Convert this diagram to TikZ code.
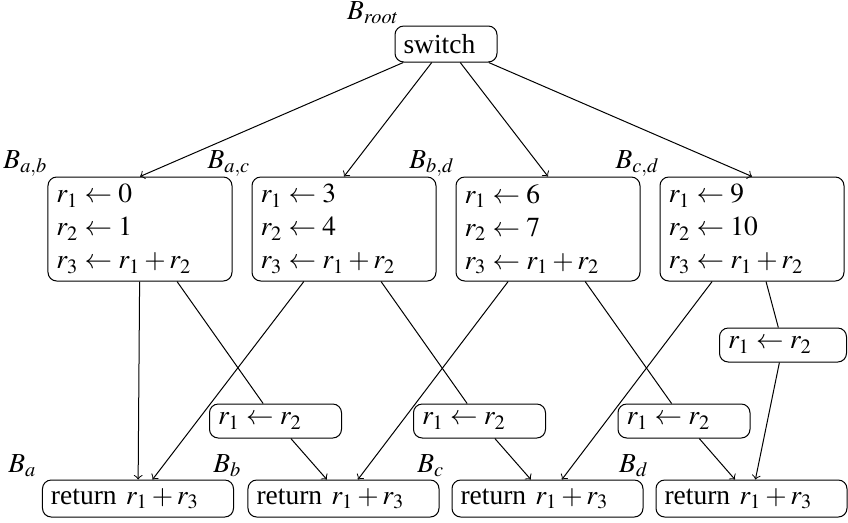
\documentclass[tikz,border=0pt]{standalone}
\usepackage{mathptmx}
\usepackage{fontspec}
\setmainfont{Liberation Serif}
\begin{document}
\begin{tikzpicture}[x=0.4pt,y=-0.4pt,
  every node/.style={font=\fontsize{11}{13.2}\selectfont},
  blk/.style={draw, rounded corners=3.5pt, align=left, inner xsep=3.4pt, inner ysep=0pt, line width=0.4pt},
  rootbox/.style={blk, text width=34pt, minimum height=14.4pt},
  midbox/.style={blk, text width=66.8pt, minimum height=41.6pt},
  movebox/.style={blk, text width=46pt, minimum height=13.6pt},
  movebox4/.style={blk, text width=44pt, minimum height=13.6pt},
  endbox/.style={blk, text width=69.6pt, minimum height=14.8pt},
  lbl/.style={anchor=base east, inner sep=0pt},
  arr/.style={->, line width=0.4pt},
  ln/.style={line width=0.4pt}]
\useasboundingbox (0,0) rectangle (848,522);

% root
\node[rootbox] (root) at (446,44) {switch};
\node[lbl] (lroot) at (400,19.5) {$B_{root}$};

% middle blocks
\node[midbox] (b1) at (140,229) {$r_1 \leftarrow 0$\\$r_2 \leftarrow 1$\\$r_3 \leftarrow r_1 + r_2$};
\node[midbox] (b2) at (344,229) {$r_1 \leftarrow 3$\\$r_2 \leftarrow 4$\\$r_3 \leftarrow r_1 + r_2$};
\node[midbox] (b3) at (548,229) {$r_1 \leftarrow 6$\\$r_2 \leftarrow 7$\\$r_3 \leftarrow r_1 + r_2$};
\node[midbox] (b4) at (752,229) {$r_1 \leftarrow 9$\\$r_2 \leftarrow 10$\\$r_3 \leftarrow r_1 + r_2$};
\node[lbl] (lb1) at (48,168) {$B_{a,b}$};
\node[lbl] (lb2) at (251,168) {$B_{a,c}$};
\node[lbl] (lb3) at (455,168) {$B_{b,d}$};
\node[lbl] (lb4) at (660,168) {$B_{c,d}$};

% move blocks
\node[movebox] (m1) at (275.5,421) {$r_1 \leftarrow r_2$};
\node[movebox] (m2) at (479.5,421) {$r_1 \leftarrow r_2$};
\node[movebox] (m3) at (684,421) {$r_1 \leftarrow r_2$};
\node[movebox4] (m4) at (783,345) {$r_1 \leftarrow r_2$};

% end blocks
\node[endbox] (e1) at (138,498.5) {return $r_1 + r_3$};
\node[endbox] (e2) at (343.5,498.5) {return $r_1 + r_3$};
\node[endbox] (e3) at (547.5,498.5) {return $r_1 + r_3$};
\node[endbox] (e4) at (751.5,498.5) {return $r_1 + r_3$};
\node[lbl] (le1) at (37,472) {$B_{a}$};
\node[lbl] (le2) at (242,472) {$B_{b}$};
\node[lbl] (le3) at (445,472) {$B_{c}$};
\node[lbl] (le4) at (649,472) {$B_{d}$};

% edges
\draw[arr] (root) -- (b1.north);
\draw[arr] (root) -- (b2.north);
\draw[arr] (root) -- (b3.north);
\draw[arr] (root) -- (b4.north);

\draw[arr] (b1) -- (e1);
\draw[ln] (b1) -- (m1);
\draw[arr] (m1) -- (e2);

\draw[arr] (b2) -- (e1);
\draw[ln] (b2) -- (m2);
\draw[arr] (m2) -- (e3);

\draw[arr] (b3) -- (e2);
\draw[ln] (b3) -- (m3);
\draw[arr] (m3) -- (e4);

\draw[arr] (b4) -- (e3);
\draw[ln] (b4) -- (m4);
\draw[arr] (m4) -- (e4);
\end{tikzpicture}
\end{document}
